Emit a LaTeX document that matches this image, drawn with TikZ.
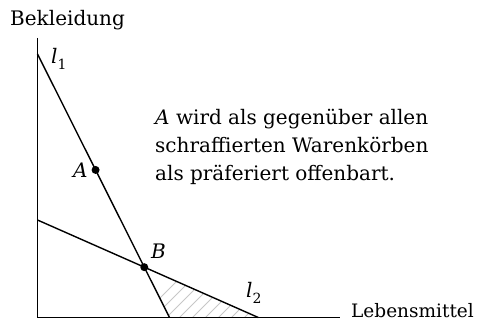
\documentclass[tikz,border=0pt]{standalone}
\usepackage{fontspec}
\setmainfont{DejaVu Serif}
\usetikzlibrary{calc}
\begin{document}
\begin{tikzpicture}[x=1pt,y=-1pt,
  axis/.style={line width=1.5pt},
  budget/.style={line width=1.4pt},
  hatch/.style={line width=1pt, draw=black!22},
  dot/.style={circle,fill,inner sep=0pt,minimum size=8pt},
  lbl/.style={font=\fontsize{20}{24}\selectfont, inner sep=0pt, anchor=base west}]
\useasboundingbox (0,0) rectangle (486,320);
\coordinate (O) at (37.5,317.5);
\coordinate (ytop) at (37.5,38);
\coordinate (xend) at (340,317.5);
\coordinate (l1a) at (37.5,54);
\coordinate (l1b) at (169.5,317.5);
\coordinate (l2a) at (37.5,220);
\coordinate (l2b) at (258.3,317.5);
\coordinate (Bp) at (intersection of l1a--l1b and l2a--l2b);
\begin{scope}
  \clip (Bp) -- (l1b) -- (l2b) -- cycle;
  \foreach \i in {0,...,11} \draw[hatch] (128+13*\i,330) -- ++(60,-60);
\end{scope}
\draw[axis] (ytop) -- (O) -- (xend);
\draw[budget] (l1a) -- (l1b);
\draw[budget] (l2a) -- (l2b);
\node[dot] (A) at ($(l1a)!0.44!(l1b)$) {};
\node[dot] (B) at (Bp) {};
\node[lbl] (ylab) at (10,26) {Bekleidung};
\node[lbl, font=\fontsize{18.5}{22}\selectfont] (xlab) at (351,317) {Lebensmittel};
\node[lbl] (l1lab) at (51,64) {\textit{l}\raisebox{-6pt}{\fontsize{14}{14}\selectfont 1}};
\node[lbl] (l2lab) at (246,297) {\textit{l}\raisebox{-6pt}{\fontsize{14}{14}\selectfont 2}};
\node[lbl] (Alab) at (73,178) {\textit{A}};
\node[lbl] (Blab) at (151,258) {\textit{B}};
\node[lbl] (t1) at (155,125) {\textit{A} wird als gegenüber allen};
\node[lbl] (t2) at (155,153) {schraffierten Warenkörben};
\node[lbl] (t3) at (155,180.5) {als präferiert offenbart.};
\end{tikzpicture}
\end{document}
